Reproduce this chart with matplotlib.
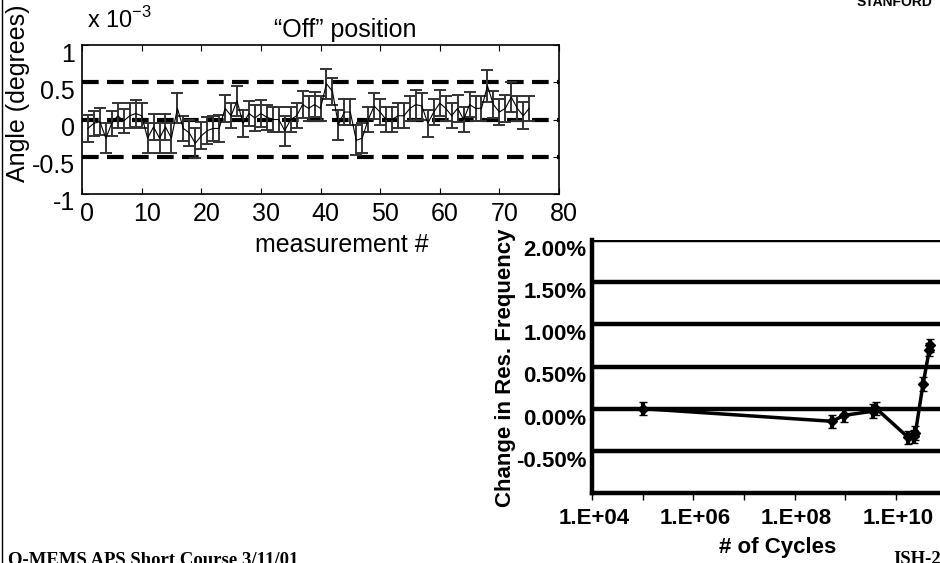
import matplotlib
matplotlib.use('Agg')
import matplotlib.pyplot as plt
from matplotlib.lines import Line2D
from matplotlib.transforms import ScaledTranslation
import numpy as np

# ---------------- data: top plot ("Off" position) ----------------
measurement = list(range(1, 76))
angle_e3 = [-0.12, -0.05, -0.03, -0.25, -0.05, 0.05, -0.02, 0.05, 0.08, 0.05,
            -0.25, -0.10, -0.25, -0.10, -0.25, 0.15, -0.12, -0.18, -0.32, -0.22,
            -0.15, -0.12, -0.12, 0.15, 0.05, 0.25, -0.05, 0.08, 0.02, 0.08,
            0.03, 0.00, 0.00, -0.15, 0.00, 0.05, 0.20, 0.15, 0.20, 0.15,
            0.48, 0.38, -0.07, 0.10, 0.10, -0.28, -0.25, 0.00, 0.18, 0.10,
            0.00, 0.00, 0.05, 0.05, 0.15, 0.20, 0.18, -0.05, 0.10, 0.22,
            0.15, 0.05, 0.15, 0.00, 0.20, 0.15, 0.15, 0.45, 0.20, 0.10,
            0.15, 0.30, 0.15, 0.05, 0.15]
angle_err = [0.18, 0.17, 0.18, 0.20, 0.17, 0.17, 0.16, 0.17, 0.18, 0.17,
             0.20, 0.18, 0.20, 0.17, 0.20, 0.20, 0.17, 0.18, 0.20, 0.18,
             0.18, 0.17, 0.18, 0.18, 0.17, 0.20, 0.18, 0.17, 0.17, 0.18,
             0.17, 0.17, 0.17, 0.20, 0.17, 0.17, 0.18, 0.17, 0.17, 0.17,
             0.20, 0.18, 0.20, 0.17, 0.17, 0.20, 0.20, 0.17, 0.17, 0.17,
             0.17, 0.17, 0.17, 0.17, 0.17, 0.20, 0.18, 0.18, 0.17, 0.17,
             0.17, 0.17, 0.18, 0.17, 0.17, 0.17, 0.17, 0.22, 0.18, 0.17,
             0.18, 0.20, 0.17, 0.18, 0.17]
dash_levels = [0.5, 0.0, -0.5]
top_xticks = [0, 10, 20, 30, 40, 50, 60, 70, 80]
top_yticks = [-1, -0.5, 0, 0.5, 1]
top_yticklabels = ['-1', '-0.5', '0', '0.5', '1']

# ---------------- data: bottom plot (cycles) ----------------
cycles = [1.0e5, 5.5e8, 9.3e8, 3.5e9, 4.1e9, 1.73e10, 2.23e10, 2.41e10, 3.41e10, 4.55e10, 4.6e10]
freq_change = [0.00, -0.15, -0.08, -0.03, 0.00, -0.34, -0.33, -0.29, 0.29, 0.70, 0.75]
freq_err = [0.08, 0.08, 0.08, 0.08, 0.08, 0.08, 0.08, 0.08, 0.08, 0.08, 0.08]
bot_yticks = [-0.5, 0.0, 0.5, 1.0, 1.5, 2.0]
bot_yticklabels = ['-0.50%', '0.00%', '0.50%', '1.00%', '1.50%', '2.00%']
bot_xticks = [1e4, 1e5, 1e6, 1e7, 1e8, 1e9, 1e10, 1e11]
bot_xticklabels = ['1.E+04', '', '1.E+06', '', '1.E+08', '', '1.E+10', '']

W, H = 940, 563
plt.rcParams['font.family'] = ['Liberation Sans', 'DejaVu Sans']
fig = plt.figure(figsize=(W / 100, H / 100), dpi=100)


def rect(l, t, r, b):
    return [l / W, 1 - b / H, (r - l) / W, (b - t) / H]


def fx(x):
    return x / W


def fy(y):
    return 1 - y / H


# ---------------- top axes ----------------
ax1 = fig.add_axes(rect(82, 45, 559, 194))
ax1.errorbar(measurement, angle_e3, yerr=angle_err, color='black', lw=0.8,
             ecolor='#333333', elinewidth=1.4, capsize=4.5, capthick=1.4, zorder=3)
for v in dash_levels:
    ax1.axhline(v, color='black', lw=3, dashes=(4, 2), zorder=2)
ax1.set_xlim(0, 80)
ax1.set_ylim(-1, 1)
ax1.set_xticks(top_xticks)
ax1.set_yticks(top_yticks)
ax1.set_yticklabels(top_yticklabels)
ax1.tick_params(direction='in', top=True, right=True, length=4, width=0.8,
                labelsize=18, color='black')
ax1.tick_params(axis='x', pad=6)
ax1.tick_params(axis='y', pad=5)
for sp in ax1.spines.values():
    sp.set_linewidth(1.2)
offx = ScaledTranslation(5 / 100, 0, fig.dpi_scale_trans)
offy = ScaledTranslation(0, -7 / 100, fig.dpi_scale_trans)
for t in ax1.xaxis.get_major_ticks():
    t.label1.set_transform(t.label1.get_transform() + offx)
for t in ax1.yaxis.get_major_ticks():
    t.label1.set_transform(t.label1.get_transform() + offy)

fig.text(fx(87), fy(20), r'x 10$^{\mathregular{-3}}$', fontsize=17, va='center', ha='left')
fig.text(fx(345), fy(30), '\u201cOff\u201d position', fontsize=18, va='center', ha='center')
fig.text(fx(18), fy(93), 'Angle (degrees)', fontsize=18, rotation=90, va='center', ha='center')
fig.text(fx(342), fy(245), 'measurement #', fontsize=18, va='center', ha='center')

# ---------------- bottom axes ----------------
ax2 = fig.add_axes(rect(592, 240, 960, 493))
ax2.set_xscale('log')
ax2.set_xlim(1e4, 10 ** (4 + (960 - 592) / 50.67))
ax2.set_ylim(-1.0, 2.0)
for v in bot_yticks:
    ax2.axhline(v, color='black', lw=3.2, zorder=1)
ax2.errorbar(cycles, freq_change, yerr=freq_err, color='black', lw=2.5,
             marker='D', markersize=5, markerfacecolor='black', markeredgewidth=1,
             ecolor='black', elinewidth=3, capsize=3, capthick=2, zorder=3)
ax2.set_yticks(bot_yticks)
ax2.set_yticklabels(bot_yticklabels)
ax2.set_xticks(bot_xticks)
ax2.set_xticklabels(bot_xticklabels)
ax2.minorticks_off()
ax2.set_xticks([], minor=True)
ax2.tick_params(axis='y', length=0, pad=4, labelsize=16)
ax2.tick_params(axis='x', direction='out', length=5, width=1, pad=6, labelsize=16)
for lab in ax2.get_xticklabels() + ax2.get_yticklabels():
    lab.set_fontweight('bold')
ax2.spines['top'].set_visible(False)
ax2.spines['right'].set_visible(False)
ax2.spines['left'].set_linewidth(3.2)
ax2.spines['bottom'].set_linewidth(3.2)
offy2 = ScaledTranslation(0, -8 / 100, fig.dpi_scale_trans)
offx2 = ScaledTranslation(2 / 100, 0, fig.dpi_scale_trans)
for t in ax2.yaxis.get_major_ticks():
    t.label1.set_transform(t.label1.get_transform() + offy2)
for t in ax2.xaxis.get_major_ticks():
    t.label1.set_transform(t.label1.get_transform() + offx2)

fig.text(fx(506), fy(368), 'Change in Res. Frequency', fontsize=16, fontweight='bold',
         rotation=90, va='center', ha='center')
fig.text(fx(778), fy(548), '# of Cycles', fontsize=16, fontweight='bold',
         va='center', ha='center')

# ---------------- slide decorations ----------------
fig.text(fx(8), fy(564), 'Q-MEMS APS Short Course 3/11/01', fontsize=13.5, fontweight='bold',
         family=['Liberation Serif', 'DejaVu Serif'], va='baseline', ha='left')
fig.text(fx(893), fy(564), 'ISH-2', fontsize=13.5, fontweight='bold',
         family=['Liberation Serif', 'DejaVu Serif'], va='baseline', ha='left')
fig.text(fx(857), fy(6), 'STANFORD', fontsize=10, fontweight='bold', va='baseline', ha='left')
fig.add_artist(Line2D([fx(2), fx(2)], [0, 1], color='black', lw=1))

fig.savefig('out.png', dpi=100)
